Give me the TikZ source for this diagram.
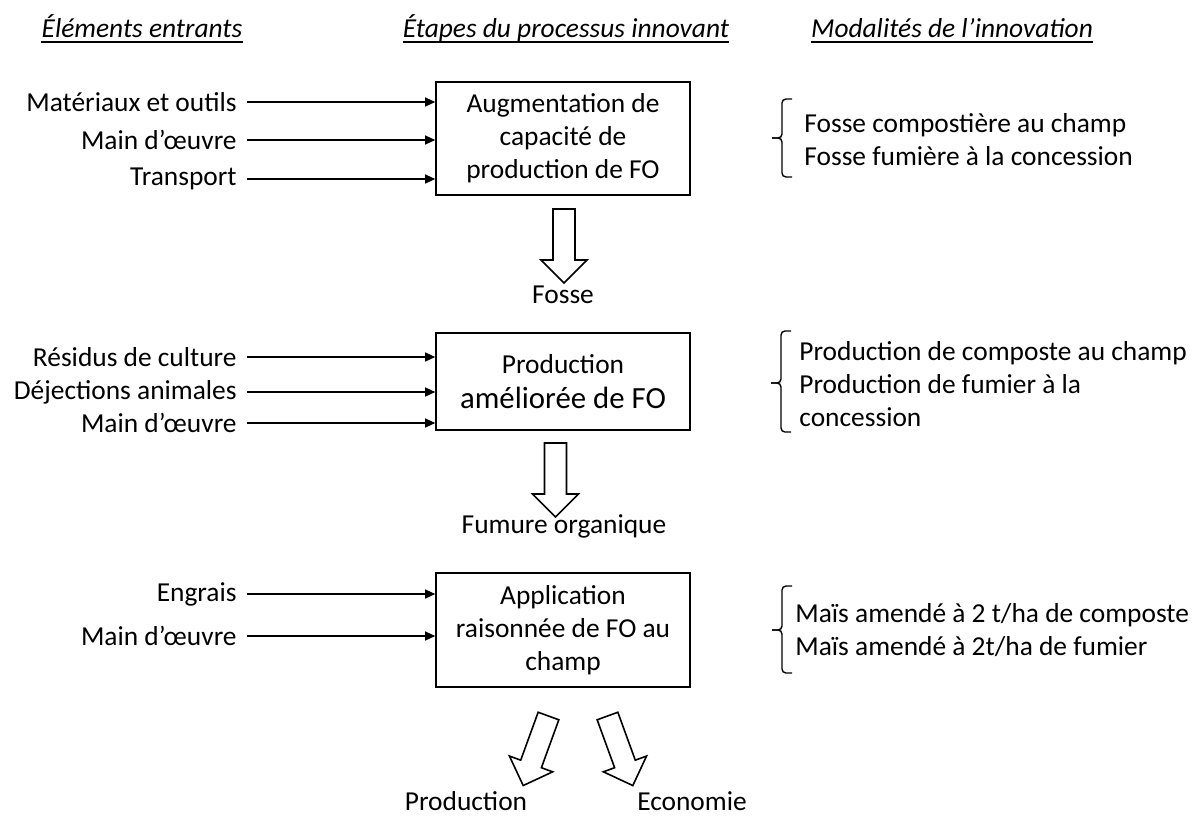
\documentclass[tikz,border=0pt]{standalone}
\usepackage{fontspec}
\setmainfont{Carlito}
\usetikzlibrary{arrows.meta}

\tikzset{
  entree/.style={anchor=east, inner sep=5pt},
  etape/.style={draw, line width=0.8pt, minimum width=127pt, inner sep=3.5pt, align=center},
  modal/.style={anchor=west, align=left, inner sep=0pt},
  titre/.style={anchor=base, inner sep=0pt, font=\fontsize{13.7}{16.5}\selectfont\itshape},
  souligne/.style={line width=0.9pt},
  fleche/.style={-{Triangle[length=5pt,width=4.5pt]}, line width=0.6pt},
  pics/grossefleche/.style={code={
    \draw[line width=0.8pt, line join=miter]
      (-11,0) -- (11,0) -- (11,51) -- (23,51) -- (0,74) -- (-23,51) -- (-11,51) -- cycle;
  }}
}

\begin{document}
\begin{tikzpicture}[x=0.5pt, y=-0.5pt, font=\fontsize{13.7}{16.5}\selectfont]
            \useasboundingbox (0,0) rectangle (1200,816);

            % Titres des colonnes
            \node[titre] (t1) at (142,37) {Éléments entrants};
            \node[titre] (t2) at (566,37) {Étapes du processus innovant};
            \node[titre] (t3) at (952,37) {Modalités de l’innovation};
            \foreach \t in {t1,t2,t3} {
                \draw[souligne] ([yshift=-2.5pt]\t.base west) -- ([yshift=-2.5pt]\t.base east);
            }

            % Etapes
            \node[etape, minimum height=56.5pt] (e1) at (563,138.5)
                {Augmentation de\\capacité de\\production de FO};
            \node[etape, minimum height=48.5pt] (e2) at (563,381.5)
                {Production\\[1pt]{\fontsize{15.4}{18}\selectfont améliorée de FO}};
            \node[etape, minimum height=57pt] (e3) at (563,630)
                {Application\\raisonnée de FO au\\champ};

            % Elements entrants
            \node[entree] (a1) at (247,102) {Matériaux et outils};
            \node[entree] (a2) at (247,140) {Main d’œuvre};
            \node[entree] (a3) at (247,179) {Transport};
            \node[entree] (b1) at (247,357) {Résidus de culture};
            \node[entree] (b2) at (247,392) {Déjections animales};
            \node[entree] (b3) at (247,423) {Main d’œuvre};
            \node[entree] (c1) at (247,594) {Engrais};
            \node[entree] (c2) at (247,636) {Main d’œuvre};

            \foreach \n in {a1,a2,a3} {
                \draw[fleche] (\n.east) -- (\n.east -| e1.west);
            }
            \foreach \n in {b1,b2,b3} {
                \draw[fleche] (\n.east) -- (\n.east -| e2.west);
            }
            \foreach \n in {c1,c2} {
                \draw[fleche] (\n.east) -- (\n.east -| e3.west);
            }

            % Grosses fleches et resultats
            \pic at (564,209) {grossefleche};
            \node (r1) at (563,295) {Fosse};
            \pic at (555.5,443) {grossefleche};
            \node (r2) at (564,526) {Fumure organique};
            \pic[rotate=-20] at (548.5,716) {grossefleche};
            \pic[rotate=20] at (607.5,716) {grossefleche};
            \node[anchor=base] (r3) at (466,810) {Production};
            \node[anchor=base] (r4) at (692,810) {Economie};

            % Modalites
            \node[modal] (m1) at (804,139.5)
                {Fosse compostière au champ\\Fosse fumière à la concession};
            \node[modal] (m2) at (799,384)
                {Production de composte au champ\\Production de fumier à la\\concession};
            \node[modal] (m3) at (795,630)
                {Maïs amendé à 2 t/ha de composte\\Maïs amendé à 2t/ha de fumier};

            % Accolades
            \foreach \bx/\bt/\bm/\bb in {782/99/138/177, 781/331/383/432, 782/586/630/673} {
                \draw[line width=0.7pt, rounded corners=2pt]
                    (\bx+10,\bt) -- (\bx,\bt) -- (\bx,\bm) -- (\bx-10,\bm);
                \draw[line width=0.7pt, rounded corners=2pt]
                    (\bx-10,\bm) -- (\bx,\bm) -- (\bx,\bb) -- (\bx+10,\bb);
            }
        \end{tikzpicture}
\end{document}
